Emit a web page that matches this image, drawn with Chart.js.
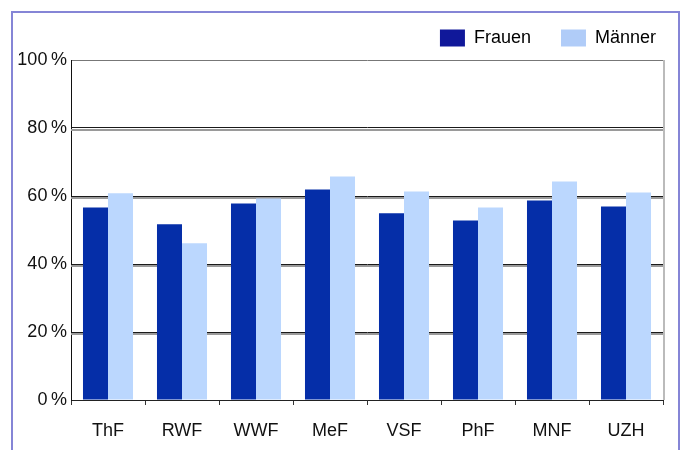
<!DOCTYPE html>
<html>
<head>
<meta charset="utf-8">
<script src="https://cdn.jsdelivr.net/npm/chart.js@4"></script>
<style>
    body { margin: 0; background: #fff; }
    .frame { position: absolute; left: 11px; top: 11px; width: 665px; height: 500px; border: 2px solid #8585d6; }
    .wrap { position: absolute; left: 0; top: 0; width: 683px; height: 450px; }
</style>
</head>
<body>
<div class="frame"></div>
<div class="wrap"><canvas id="chart" width="683" height="450"></canvas></div>
<script>
const faculties = ['ThF', 'RWF', 'WWF', 'MeF', 'VSF', 'PhF', 'MNF', 'UZH'];
const frauen = [56.6, 51.7, 57.8, 61.9, 54.9, 52.8, 58.7, 56.9];
const maenner = [60.8, 46.1, 59.3, 65.7, 61.3, 56.6, 64.3, 61.0];
const yTicks = [0, 20, 40, 60, 80, 100];

const FONT = { family: '"Liberation Sans", Arial, sans-serif', size: 18 };

// gray shadow under the dark gridlines
const gridShadow = {
    id: 'gridShadow',
    afterLayout(chart) {
        // nudge the legend to where the original had it
        const lg = chart.legend;
        lg.left += 23; lg.right += 23;
        lg.top -= 3; lg.bottom -= 3;
    },
    beforeDatasetsDraw(chart) {
        const { ctx, chartArea, scales } = chart;
        ctx.save();
        ctx.strokeStyle = '#9a9a9a';
        ctx.lineWidth = 2;
        yTicks.slice(1, -1).forEach(v => {
            const y = Math.round(scales.y.getPixelForValue(v)) + 2;
            ctx.beginPath();
            ctx.moveTo(chartArea.left, y);
            ctx.lineTo(chartArea.right, y);
            ctx.stroke();
        });
        ctx.strokeStyle = '#bbbbbb';
        ctx.beginPath();
        ctx.moveTo(chartArea.right + 1, chartArea.top);
        ctx.lineTo(chartArea.right + 1, chartArea.bottom);
        ctx.stroke();
        ctx.restore();
    }
};

new Chart(document.getElementById('chart'), {
    type: 'bar',
    data: {
        labels: faculties,
        datasets: [
            { label: 'Frauen', data: frauen, backgroundColor: '#052ea8' },
            { label: 'Männer', data: maenner, backgroundColor: '#bbd7fe' }
        ]
    },
    options: {
        responsive: false,
        animation: false,
        devicePixelRatio: 1,
        layout: { padding: { left: 0, right: 20, top: 2, bottom: 0 } },
        datasets: { bar: { barPercentage: 1, categoryPercentage: 0.676 } },
        plugins: {
            tooltip: { enabled: false },
            legend: {
                position: 'top',
                align: 'end',
                labels: {
                    color: '#111',
                    font: FONT,
                    boxWidth: 25,
                    boxHeight: 17,
                    padding: 30,
                    generateLabels: (chart) => chart.data.datasets.map((ds, i) => ({
                        text: ds.label,
                        fillStyle: i === 0 ? '#10189a' : '#b0ccf8',
                        strokeStyle: 'transparent',
                        lineWidth: 0,
                        datasetIndex: i
                    }))
                }
            }
        },
        scales: {
            x: {
                grid: {
                    display: true,
                    drawOnChartArea: false,
                    drawTicks: true,
                    tickLength: 5,
                    offset: true,
                    color: '#333'
                },
                border: { color: '#222', width: 1 },
                ticks: { color: '#111', font: FONT, padding: 15 },
                afterFit: (scale) => { scale.height = 50; }
            },
            y: {
                min: 0,
                max: 100,
                afterBuildTicks: (scale) => { scale.ticks = yTicks.map(v => ({ value: v })); },
                grid: {
                    drawTicks: false,
                    color: (ctx) => ctx.tick.value === 100 ? '#777' : '#1a1a1a',
                    lineWidth: 1
                },
                border: { color: '#111', width: 1 },
                ticks: {
                    color: '#111',
                    font: FONT,
                    padding: 4,
                    callback: (v) => v + '\u2009%'
                },
                afterFit: (scale) => { scale.width = 71; }
            }
        }
    },
    plugins: [gridShadow]
});
</script>
</body>
</html>
